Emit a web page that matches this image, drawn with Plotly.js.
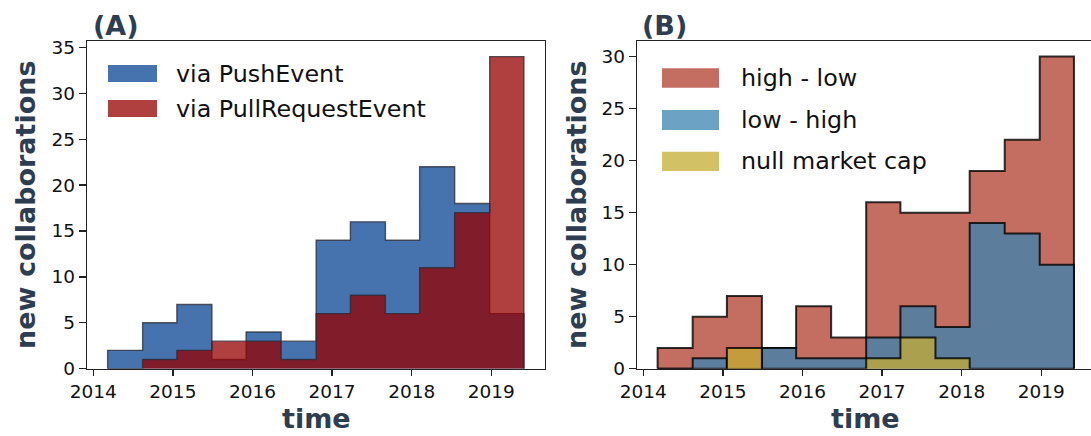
<!DOCTYPE html>
<html>
<head>
<meta charset="utf-8">
<script src="https://cdn.plot.ly/plotly-3.0.1.min.js"></script>
<style>html,body{margin:0;padding:0;background:#fff;}#chart{width:1091px;height:436px;}</style>
</head>
<body>
<div id="chart"></div>
<script>
// ---- data ----
var binEdges = [2014.18, 2014.62, 2015.05, 2015.49, 2015.92, 2016.36, 2016.80, 2017.23, 2017.67, 2018.10, 2018.54, 2018.98, 2019.41];
var pushEvent = [2, 5, 7, 1, 4, 3, 14, 16, 14, 22, 18, 6];
var pullRequestEvent = [0, 1, 2, 3, 3, 1, 6, 8, 6, 11, 17, 34];
var highLow = [2, 5, 7, 2, 6, 3, 16, 15, 15, 19, 22, 30];
var lowHigh = [0, 1, 0, 2, 1, 1, 3, 6, 4, 14, 13, 10];
var nullCap = [0, 0, 2, 0, 0, 0, 1, 3, 1, 0, 0, 0];
var yearTicks = [2014, 2015, 2016, 2017, 2018, 2019];
var yTicksA = [0, 5, 10, 15, 20, 25, 30, 35];
var yTicksB = [0, 5, 10, 15, 20, 25, 30];
var labelsA = ['via PushEvent', 'via PullRequestEvent'];
var labelsB = ['high - low', 'low - high', 'null market cap'];

var W = 1091, H = 436;
function px(x) { return x / W; }
function py(y) { return 1 - y / H; }

function stepTrace(counts, fill, lineColor, lineWidth, xa, ya) {
  var xs = [binEdges[0]], ys = [0];
  for (var i = 0; i < counts.length; i++) { xs.push(binEdges[i]); ys.push(counts[i]); }
  xs.push(binEdges[binEdges.length - 1]); ys.push(counts[counts.length - 1]);
  xs.push(binEdges[binEdges.length - 1]); ys.push(0);
  return {
    type: 'scatter', mode: 'lines', x: xs, y: ys, xaxis: xa, yaxis: ya,
    line: { shape: 'hv', color: lineColor, width: lineWidth },
    fill: 'tozeroy', fillcolor: fill, showlegend: false, hoverinfo: 'skip'
  };
}

var cBlueA = 'rgba(8,68,146,0.75)';
var cRedA = 'rgba(150,0,0,0.75)';
var cRedB = 'rgba(176,62,46,0.75)';
var cBlueB = 'rgba(59,131,176,0.75)';
var cYelB = 'rgba(196,172,51,0.75)';
var edgeA = 'rgba(40,40,50,0.75)';
var edgeB = 'rgba(0,0,0,0.8)';

var data = [
  stepTrace(pushEvent, cBlueA, edgeA, 1.4, 'x', 'y'),
  stepTrace(pullRequestEvent, cRedA, edgeA, 1.4, 'x', 'y'),
  stepTrace(highLow, cRedB, edgeB, 2, 'x2', 'y2'),
  stepTrace(lowHigh, cBlueB, edgeB, 2, 'x2', 'y2'),
  stepTrace(nullCap, cYelB, edgeB, 2, 'x2', 'y2')
];

var tickFont = { family: 'DejaVu Sans', size: 18.5, color: '#111' };
var titleCol = '#2e3d4f';
var yDom = [py(368.7), py(41)];

function xAxis(domain, range, mirror) {
  return {
    domain: domain, range: range, tickvals: yearTicks, ticktext: yearTicks.map(String),
    ticks: 'outside', ticklen: 6, tickwidth: 1.3, tickcolor: '#222',
    showline: true, linecolor: '#222', linewidth: 1.3, mirror: mirror,
    showgrid: false, zeroline: false, tickfont: tickFont, fixedrange: true
  };
}
function yAxis(anchor, range, ticks, mirror) {
  return {
    domain: yDom, range: range, anchor: anchor, tickvals: ticks, ticktext: ticks.map(String),
    ticks: 'outside', ticklen: 7, tickwidth: 1.3, tickcolor: '#222',
    showline: true, linecolor: '#222', linewidth: 1.3, mirror: mirror,
    showgrid: false, zeroline: false, tickfont: tickFont, fixedrange: true
  };
}

var shapes = [];
var annotations = [];
function legendItem(x0, x1, y0, y1, color, label, tx) {
  shapes.push({ type: 'rect', xref: 'paper', yref: 'paper', x0: px(x0), x1: px(x1), y0: py(y1), y1: py(y0),
    fillcolor: color, line: { width: 0 }, layer: 'above' });
  annotations.push({ xref: 'paper', yref: 'paper', x: px(tx), y: py((y0 + y1) / 2), xanchor: 'left', yanchor: 'middle',
    text: label, showarrow: false, font: { family: 'DejaVu Sans', size: 23.8, color: '#111' } });
}
legendItem(108, 157, 65, 82, cBlueA, labelsA[0], 174);
legendItem(108, 157, 100, 117, cRedA, labelsA[1], 174);
legendItem(662, 719, 68.3, 87.7, cRedB, labelsB[0], 739);
legendItem(662, 719, 110, 130, cBlueB, labelsB[1], 739);
legendItem(662, 719, 151.7, 171, cYelB, labelsB[2], 739);

var titleFont = { family: 'DejaVu Sans', size: 27, color: titleCol, weight: 'bold' };
function ann(x, y, text, angle, xanchor) {
  annotations.push({ xref: 'paper', yref: 'paper', x: px(x), y: py(y), text: '<b>' + text + '</b>', showarrow: false,
    xanchor: xanchor || 'center', yanchor: 'middle', textangle: angle || 0, font: titleFont });
}
ann(91, 25, '(A)', 0, 'left');
ann(640, 25, '(B)', 0, 'left');
ann(25, 205, 'new collaborations', -90);
ann(576, 205, 'new collaborations', -90);
ann(316, 418, 'time');
ann(865, 418, 'time');

var layout = {
  width: W, height: H, margin: { l: 0, r: 0, t: 0, b: 0 },
  paper_bgcolor: '#fff', plot_bgcolor: '#fff', showlegend: false,
  xaxis: xAxis([px(87), px(545)], [2013.921, 2019.675], true),
  yaxis: yAxis('x', [0, 35.7], yTicksA, true),
  xaxis2: xAxis([px(637), 1], [2013.921, 2019.624], true),
  yaxis2: yAxis('x2', [0, 31.5], yTicksB, false),
  shapes: shapes, annotations: annotations
};

Plotly.newPlot('chart', data, layout, { displayModeBar: false, staticPlot: true });
</script>
</body>
</html>
